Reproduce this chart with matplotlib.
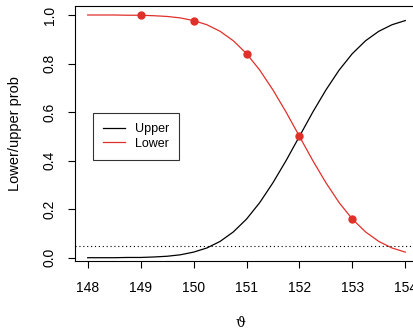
import matplotlib
matplotlib.use("Agg")
import matplotlib.pyplot as plt

# Curve values
theta = [148.0, 148.25, 148.5, 148.75, 149.0, 149.25, 149.5, 149.75, 150.0,
         150.25, 150.5, 150.75, 151.0, 151.25, 151.5, 151.75, 152.0,
         152.25, 152.5, 152.75, 153.0, 153.25, 153.5, 153.75, 154.0]
upper = [0.000, 0.000, 0.000, 0.001, 0.001, 0.003, 0.006, 0.012, 0.023,
         0.040, 0.067, 0.106, 0.159, 0.227, 0.309, 0.401, 0.500,
         0.599, 0.691, 0.773, 0.841, 0.894, 0.933, 0.960, 0.977]
lower = [1.000, 1.000, 1.000, 0.999, 0.999, 0.997, 0.994, 0.988, 0.977,
         0.960, 0.933, 0.894, 0.841, 0.773, 0.691, 0.599, 0.500,
         0.401, 0.309, 0.227, 0.159, 0.106, 0.067, 0.040, 0.023]
pts_x = [149, 150, 151, 152, 153]
pts_y = [0.999, 0.977, 0.841, 0.500, 0.159]
level = 0.05
xticks = [148, 149, 150, 151, 152, 153, 154]
yticks = [0.0, 0.2, 0.4, 0.6, 0.8, 1.0]

plt.rcParams['font.family'] = ['Liberation Sans', 'DejaVu Sans']
red = '#e0302a'

fig = plt.figure(figsize=(4.14, 3.34), dpi=100)
ax = fig.add_axes([75/414, 72.7/334, 343/414, 255.6/334])

ax.plot(theta, upper, color='black', lw=0.9, label='Upper')
ax.plot(theta, lower, color=red, lw=0.9, label='Lower')
ax.plot(pts_x, pts_y, 'o', color=red, ms=5.0, mec=red)
ax.axhline(level, color='black', lw=0.8, ls=(0, (1, 2.5)))

ax.set_xlim(147.76, 154.24)
ax.set_ylim(-0.0148, 1.0383)
ax.set_xticks(xticks)
ax.set_xticklabels([str(t) for t in xticks])
ax.set_yticks(yticks)
ax.set_yticklabels([f"{t:.1f}" for t in yticks], rotation=90, va='center')
ax.tick_params(axis='both', direction='out', length=5, width=0.8, labelsize=10, color='black')
ax.tick_params(axis='x', pad=9)
ax.tick_params(axis='y', pad=8)
for s in ax.spines.values():
    s.set_linewidth(0.8)

ax.set_ylabel('Lower/upper prob', fontsize=10.5)
ax.yaxis.set_label_coords(-0.1545, 0.5)
fig.text(240/414, 1 - 323/334, 'ϑ', family='DejaVu Serif', fontsize=10, ha='center', va='center')

leg = ax.legend(loc='upper left', bbox_to_anchor=((92.7-75)/343, 1 - (112.7-5.7)/255.6),
                frameon=True, fancybox=False, fontsize=9, handlelength=1.7,
                borderpad=0.85, labelspacing=0.2, handletextpad=0.8, borderaxespad=0)
leg.get_frame().set_edgecolor('black')
leg.get_frame().set_linewidth(0.8)

fig.savefig('out.png', dpi=100)
